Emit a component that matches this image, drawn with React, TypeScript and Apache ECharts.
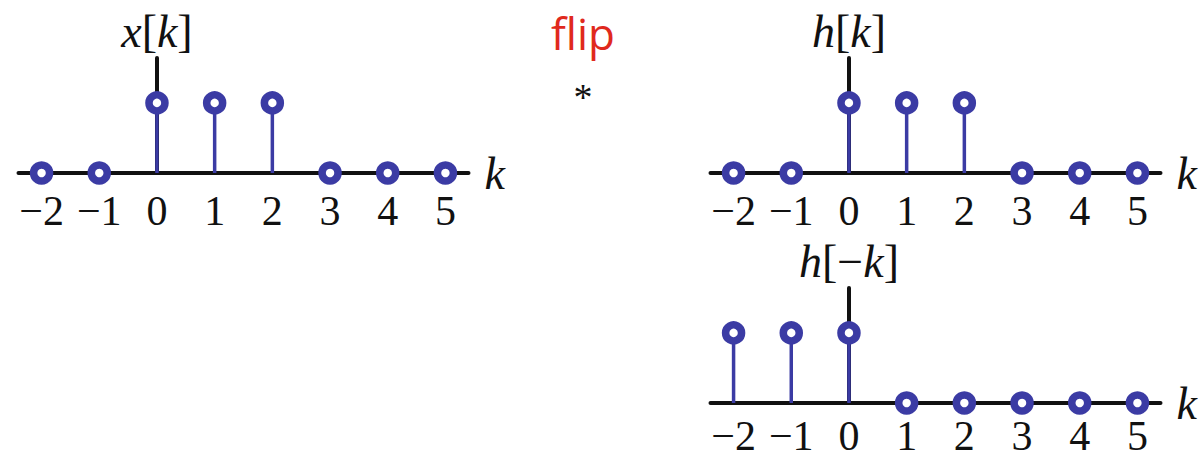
import React, { useEffect, useRef } from "react";
import * as echarts from "echarts";

const kValues = [-2, -1, 0, 1, 2, 3, 4, 5];
const xValues = [0, 0, 1, 1, 1, 0, 0, 0];
const hValues = [0, 0, 1, 1, 1, 0, 0, 0];
const hFlipValues = [1, 1, 1, 0, 0, 0, 0, 0];
const tickLabels = ["−2", "−1", "0", "1", "2", "3", "4", "5"];
const panelNames = [
  "{i|x}{r|[}{i|k}{r|]}",
  "{i|h}{r|[}{i|k}{r|]}",
  "{i|h}{r|[−}{i|k}{r|]}",
];

const BLUE = "#3b3ba4";
const RED = "#e0291d";
const SERIF = "Liberation Serif";

export default function App() {
  const ref = useRef<HTMLDivElement>(null);
  useEffect(() => {
    if (!ref.current) return;
    const chart = echarts.init(ref.current, null, { renderer: "svg" });
    const grids = [
      { left: 18.5, top: 58, width: 450, height: 115 },
      { left: 710.5, top: 58, width: 450, height: 115 },
      { left: 710.5, top: 288, width: 450, height: 115 },
    ];
    const labelMargins = [20, 20, 15];
    const datasets = [xValues, hValues, hFlipValues];
    const rich = {
      i: { fontFamily: SERIF, fontStyle: "italic", fontSize: 46, color: "#111" },
      r: { fontFamily: SERIF, fontSize: 46, color: "#111" },
    };
    const xAxes = grids.map((_, i) => ({
      type: "value",
      gridIndex: i,
      min: -2.4,
      max: 5.4,
      axisLine: { onZero: true, lineStyle: { color: "#111", width: 4 } },
      axisTick: { show: false },
      splitLine: { show: false },
      axisLabel: {
        customValues: kValues,
        formatter: (v: number) => tickLabels[kValues.indexOf(Math.round(v))] ?? "",
        fontFamily: SERIF,
        fontSize: 42,
        lineHeight: 36,
        color: "#111",
        margin: labelMargins[i],
      },
      name: "k",
      nameLocation: "end",
      nameGap: 16,
      nameTextStyle: {
        fontFamily: SERIF,
        fontStyle: "italic",
        fontSize: 46,
        color: "#111",
        verticalAlign: "middle",
        padding: [6, 0, 0, 0],
      },
    }));
    const yAxes = grids.map((_, i) => ({
      type: "value",
      gridIndex: i,
      min: 0,
      max: 1.64,
      axisLine: { show: true, onZero: true, lineStyle: { color: "#111", width: 4 } },
      axisTick: { show: false },
      splitLine: { show: false },
      axisLabel: { show: false },
      name: panelNames[i],
      nameLocation: "end",
      nameGap: 4,
      nameTextStyle: { rich, align: "center" },
    }));
    const series: any[] = [];
    datasets.forEach((vals, i) => {
      const pts = kValues.map((k, j) => [k, vals[j]]);
      series.push({
        type: "bar",
        xAxisIndex: i,
        yAxisIndex: i,
        barWidth: 3.5,
        data: pts,
        itemStyle: { color: BLUE },
        z: 3,
      });
      series.push({
        type: "scatter",
        xAxisIndex: i,
        yAxisIndex: i,
        symbol: "circle",
        symbolSize: 16,
        data: pts,
        itemStyle: { color: "#fff", borderColor: BLUE, borderWidth: 7.5, opacity: 1 },
        z: 4,
      });
    });
    chart.setOption({
      animation: false,
      backgroundColor: "#fff",
      grid: grids,
      xAxis: xAxes,
      yAxis: yAxes,
      series,
      graphic: [
        {
          type: "text",
          x: 583,
          y: 33,
          style: {
            text: "flip",
            fontFamily: "Open Sans",
            fontSize: 44,
            fill: RED,
            align: "center",
            verticalAlign: "middle",
          },
        },
        {
          type: "text",
          x: 583,
          y: 97,
          style: {
            text: "*",
            fontFamily: SERIF,
            fontSize: 38,
            fill: "#111",
            align: "center",
            verticalAlign: "middle",
          },
        },
      ],
    });
    return () => chart.dispose();
  }, []);
  return (
    <div
      ref={ref}
      style={{ position: "fixed", left: 0, top: 0, width: 1202, height: 461 }}
    />
  );
}
